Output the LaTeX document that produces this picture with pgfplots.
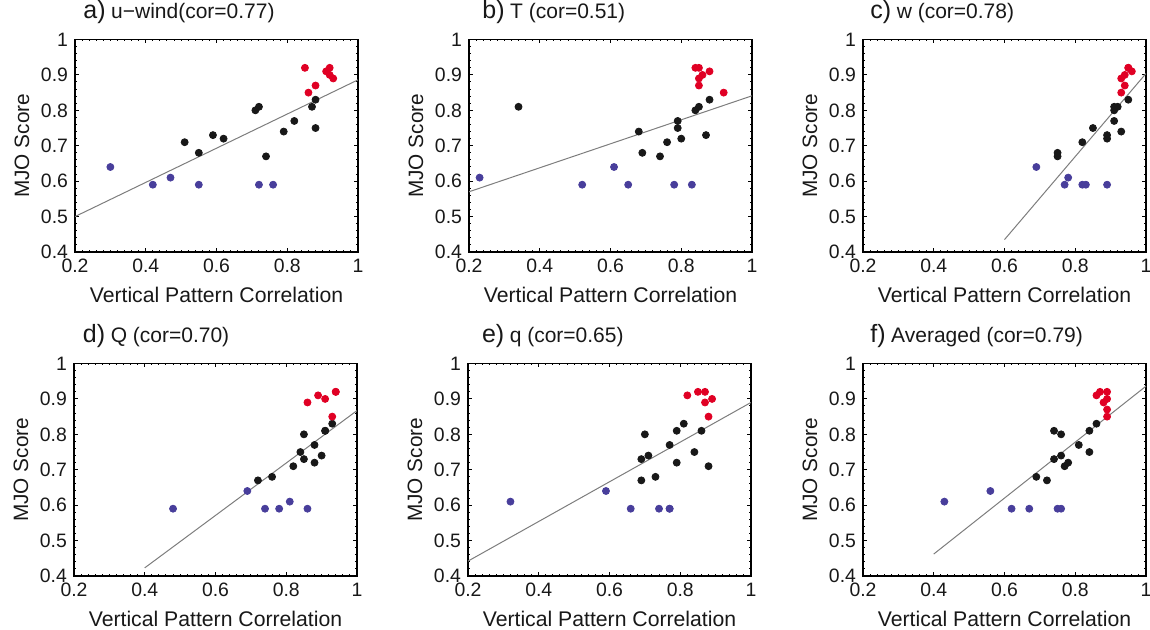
\documentclass[border=0pt]{standalone}
\usepackage{fontspec}
\setmainfont{Liberation Sans}
\usepackage{pgfplots}
\pgfplotsset{compat=1.18}
\definecolor{mred}{RGB}{224,0,36}
\definecolor{mblue}{RGB}{72,62,155}
\definecolor{mblack}{RGB}{24,24,24}
\definecolor{lgray}{RGB}{125,125,125}
\pgfplotsset{mjo/.style={
  scale only axis, width=141.5pt, height=106.25pt, anchor=south west,
  xmin=0.2,xmax=1,ymin=0.4,ymax=1,
  xtick={0.2,0.4,0.6,0.8,1}, ytick={0.4,0.5,0.6,0.7,0.8,0.9,1},
  minor x tick num=9, minor y tick num=4,
  tick align=inside,
  major tick length=1.8pt, minor tick length=0.9pt,
  every tick/.style={black, line width=0.5pt},
  axis line style={black, line width=0.8pt},
  /pgf/number format/assume math mode=true,
  tick label style={font=\fontsize{9.7}{10}\selectfont, text=mblack},
  xlabel={Vertical Pattern Correlation}, ylabel={MJO Score},
  every axis x label/.style={at={(rel axis cs:0.5,0)}, yshift=-21.5pt, anchor=center, font=\fontsize{10.6}{12}\selectfont, text=mblack},
  every axis y label/.style={at={(rel axis cs:0,0.5)}, xshift=-26.5pt, rotate=90, anchor=center, font=\fontsize{10.4}{12}\selectfont, text=mblack},
  title style={at={(rel axis cs:0,1)}, anchor=base west, yshift=4.5pt, inner sep=0pt, text=mblack},
}, 
bl/.style={only marks, mark=*, mark size=1.75pt, mblue, mark options={draw=mblue, fill=mblue}},
bk/.style={only marks, mark=*, mark size=1.75pt, mblack, mark options={draw=mblack, fill=mblack}},
rd/.style={only marks, mark=*, mark size=1.75pt, mred, mark options={draw=mred, fill=mred}},
fit/.style={lgray, line width=0.5pt, no marks},
}
\newcommand{\ttl}[2]{{\fontsize{12.5}{14}\selectfont #1} {\fontsize{10.5}{12}\selectfont #2}}
\begin{document}
\begin{tikzpicture}
\path[use as bounding box] (0,0) rectangle (575pt,315pt);
% a) u-wind
\begin{axis}[mjo, at={(37.5pt,189pt)}, title={\ttl{a)}{u−wind(cor=0.77)}}, title style={xshift=4pt}]
\addplot[fit] coordinates {(0.2,0.50) (1.0,0.886)};
\addplot[bl] coordinates {(0.30,0.64) (0.42,0.59) (0.47,0.61) (0.55,0.59) (0.72,0.59) (0.76,0.59)};
\addplot[bk] coordinates {(0.51,0.71) (0.55,0.68) (0.59,0.73) (0.62,0.72) (0.71,0.80) (0.72,0.81) (0.74,0.67) (0.79,0.74) (0.82,0.77) (0.87,0.81) (0.88,0.83) (0.88,0.75)};
\addplot[rd] coordinates {(0.85,0.92) (0.86,0.85) (0.88,0.87) (0.91,0.91) (0.92,0.92) (0.92,0.90) (0.93,0.89)};
\end{axis}
% b) T
\begin{axis}[mjo, at={(234.5pt,189pt)}, title={\ttl{b)}{T (cor=0.51)}}, title style={xshift=6.5pt}]
\addplot[fit] coordinates {(0.2,0.570) (1.0,0.841)};
\addplot[bl] coordinates {(0.23,0.61) (0.52,0.59) (0.61,0.64) (0.65,0.59) (0.78,0.59) (0.83,0.59)};
\addplot[bk] coordinates {(0.34,0.81) (0.68,0.74) (0.69,0.68) (0.74,0.67) (0.76,0.71) (0.79,0.77) (0.79,0.75) (0.80,0.72) (0.84,0.80) (0.85,0.81) (0.87,0.73) (0.88,0.83)};
\addplot[rd] coordinates {(0.84,0.92) (0.85,0.92) (0.85,0.89) (0.86,0.90) (0.85,0.87) (0.88,0.91) (0.92,0.85)};
\end{axis}
% c) w
\begin{axis}[mjo, at={(431.5pt,189pt)}, title={\ttl{c)}{w (cor=0.78)}}, title style={xshift=3.5pt}]
\addplot[fit] coordinates {(0.6,0.435) (1.0,0.904)};
\addplot[bl] coordinates {(0.69,0.64) (0.77,0.59) (0.78,0.61) (0.82,0.59) (0.83,0.59) (0.89,0.59)};
\addplot[bk] coordinates {(0.75,0.68) (0.75,0.67) (0.82,0.71) (0.85,0.75) (0.89,0.73) (0.89,0.72) (0.91,0.80) (0.91,0.81) (0.92,0.81) (0.91,0.77) (0.93,0.74) (0.95,0.83)};
\addplot[rd] coordinates {(0.93,0.89) (0.94,0.90) (0.95,0.92) (0.96,0.91) (0.94,0.87) (0.93,0.85) (0.95,0.92)};
\end{axis}
% d) Q
\begin{axis}[mjo, at={(37pt,27pt)}, title={\ttl{d)}{Q (cor=0.70)}}, title style={xshift=4.3pt}]
\addplot[fit] coordinates {(0.4,0.423) (1.0,0.867)};
\addplot[bl] coordinates {(0.48,0.59) (0.69,0.64) (0.74,0.59) (0.78,0.59) (0.81,0.61) (0.86,0.59)};
\addplot[bk] coordinates {(0.72,0.67) (0.76,0.68) (0.82,0.71) (0.84,0.75) (0.85,0.80) (0.85,0.73) (0.88,0.77) (0.88,0.72) (0.90,0.74) (0.91,0.81) (0.91,0.81) (0.93,0.83)};
\addplot[rd] coordinates {(0.86,0.89) (0.89,0.91) (0.91,0.90) (0.94,0.92) (0.93,0.85) (0.94,0.92)};
\end{axis}
% e) q
\begin{axis}[mjo, at={(234pt,27pt)}, title={\ttl{e)}{q (cor=0.65)}}, title style={xshift=6.8pt}]
\addplot[fit] coordinates {(0.2,0.442) (1.0,0.890)};
\addplot[bl] coordinates {(0.32,0.61) (0.59,0.64) (0.66,0.59) (0.74,0.59) (0.77,0.59) (0.77,0.59)};
\addplot[bk] coordinates {(0.69,0.67) (0.69,0.73) (0.70,0.80) (0.71,0.74) (0.73,0.68) (0.77,0.77) (0.79,0.81) (0.79,0.72) (0.81,0.83) (0.84,0.75) (0.86,0.81) (0.88,0.71)};
\addplot[rd] coordinates {(0.82,0.91) (0.85,0.92) (0.87,0.92) (0.87,0.89) (0.89,0.90) (0.88,0.85)};
\end{axis}
% f) Averaged
\begin{axis}[mjo, at={(431.5pt,27pt)}, title={\ttl{f)}{Averaged (cor=0.79)}}, title style={xshift=3.5pt}]
\addplot[fit] coordinates {(0.4,0.462) (1.0,0.936)};
\addplot[bl] coordinates {(0.43,0.61) (0.56,0.64) (0.62,0.59) (0.67,0.59) (0.75,0.59) (0.76,0.59)};
\addplot[bk] coordinates {(0.69,0.68) (0.72,0.67) (0.74,0.81) (0.74,0.73) (0.76,0.80) (0.76,0.74) (0.77,0.71) (0.78,0.72) (0.81,0.77) (0.84,0.81) (0.84,0.75) (0.86,0.83)};
\addplot[rd] coordinates {(0.86,0.91) (0.87,0.92) (0.89,0.92) (0.88,0.89) (0.89,0.90) (0.89,0.87) (0.89,0.85)};
\end{axis}
\end{tikzpicture}
\end{document}
